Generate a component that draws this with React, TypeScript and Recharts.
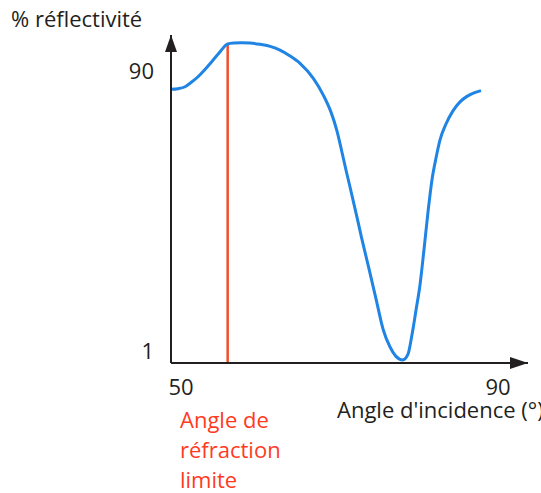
import React from 'react'
import {
  LineChart,
  Line,
  XAxis,
  YAxis,
  ReferenceLine,
  ReferenceDot,
} from 'recharts'

// angle of incidence (deg) and reflectivity (%) along the SPR curve
const angles = [
  48.74, 49.62, 50.51, 51.26, 52.15, 53.03, 53.88, 54.8, 55.89, 56.69, 57.66, 58.71, 59.97,
  61.36, 62.49, 63.76, 65.02, 66.7, 67.96, 68.93, 69.69, 70.28, 70.82, 71.33, 72.17, 72.8,
  73.72, 74.61, 75.53, 76.38, 77.13, 77.98, 78.65, 79.15, 79.66, 80.16, 80.66, 81.17, 81.67,
  82.18, 82.68, 83.44, 84.32, 85.21, 86.09, 86.97, 87.86,
]
const reflectivity = [
  84.3, 84.5, 85.1, 86.4, 88.2, 90.5, 92.9, 95.6, 98.4, 98.7, 98.8, 98.7, 98.3,
  97.6, 96.5, 94.7, 92.4, 87.7, 82.5, 77.2, 71.3, 65.1, 59.2, 53.9, 44.9, 38.0,
  28.5, 19.1, 9.4, 4.1, 1.2, 0.1, 1.9, 7.9, 15.6, 23.4, 34.3, 46.1, 56.1,
  62.9, 68.5, 73.5, 77.6, 80.4, 82.1, 83.2, 83.9,
]
const xTicks = [50, 90]
const yTicks = [1, 90]
const criticalAngle = 55.89

const X_DOMAIN: [number, number] = [48.74, 93.79]
const Y_DOMAIN: [number, number] = [-0.87, 101.2]

const data = angles.map((a, i) => ({ angle: a, r: reflectivity[i] }))
const criticalR = reflectivity[angles.indexOf(criticalAngle)]

const FONT = '"Open Sans", sans-serif'
const INK = '#231f20'
const BLUE = '#1f84e4'
const RED = '#f24e28'
const TEXT_RED = '#ff3b1f'

function YTick({ x, y, payload }: any) {
  // the "1" label sits a little above its tick
  const dy = payload.value === 1 ? 2.5 : 8
  return (
    <text x={x - 9} y={y + dy} textAnchor="end" fontSize={22} fill={INK} fontFamily={FONT}>
      {payload.value}
    </text>
  )
}

function XTick({ x, y, payload }: any) {
  return (
    <text x={x} y={y + 24} textAnchor="middle" fontSize={22} fill={INK} fontFamily={FONT}>
      {payload.value}
    </text>
  )
}

function UpArrow({ cx, cy }: any) {
  return <path d={`M${cx},${cy} L${cx - 6},${cy + 17} L${cx + 6},${cy + 17} Z`} fill={INK} />
}

function RightArrow({ cx, cy }: any) {
  return <path d={`M${cx},${cy} L${cx - 18},${cy - 6} L${cx - 18},${cy + 6} Z`} fill={INK} />
}

export default function App() {
  return (
    <div style={{ position: 'fixed', left: 0, top: 0, width: 541, height: 493, background: '#fff', overflow: 'hidden' }}>
      <LineChart width={541} height={493} data={data} margin={{ top: 35, right: 13, left: 111, bottom: 100 }}>
        <XAxis
          dataKey="angle"
          type="number"
          domain={X_DOMAIN}
          ticks={xTicks}
          allowDataOverflow
          height={30}
          tickLine={false}
          axisLine={{ stroke: INK, strokeWidth: 2 }}
          tick={<XTick />}
        />
        <YAxis
          type="number"
          domain={Y_DOMAIN}
          ticks={yTicks}
          allowDataOverflow
          width={60}
          tickLine={false}
          axisLine={{ stroke: INK, strokeWidth: 2 }}
          tick={<YTick />}
        />
        <ReferenceLine
          segment={[
            { x: criticalAngle, y: Y_DOMAIN[0] },
            { x: criticalAngle, y: criticalR },
          ]}
          stroke={RED}
          strokeWidth={2.5}
          ifOverflow="visible"
        />
        <Line
          dataKey="r"
          type="monotone"
          stroke={BLUE}
          strokeWidth={3}
          dot={false}
          isAnimationActive={false}
        />
        <ReferenceDot x={X_DOMAIN[0]} y={Y_DOMAIN[1]} ifOverflow="visible" shape={<UpArrow />} />
        <ReferenceDot x={X_DOMAIN[1]} y={Y_DOMAIN[0]} ifOverflow="visible" shape={<RightArrow />} />
      </LineChart>
      <svg
        width={541}
        height={493}
        style={{ position: 'absolute', left: 0, top: 0, pointerEvents: 'none' }}
        fontFamily={FONT}
        fontSize={22}
      >
        <text x={11} y={27} fill={INK}>% réflectivité</text>
        <text x={337} y={418} fill={INK}>Angle d'incidence (°)</text>
        <text x={180} y={428} fill={TEXT_RED}>Angle de</text>
        <text x={180} y={458} fill={TEXT_RED}>réfraction</text>
        <text x={180} y={488} fill={TEXT_RED}>limite</text>
      </svg>
    </div>
  )
}
